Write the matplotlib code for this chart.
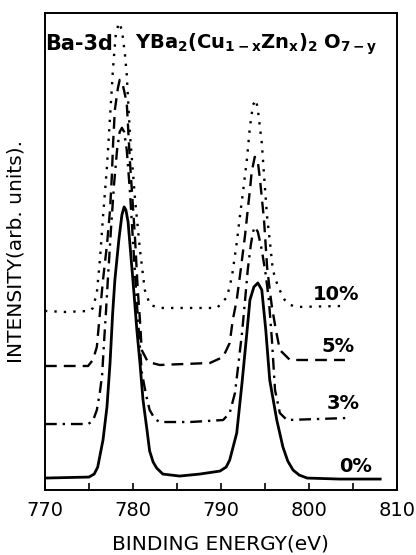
import matplotlib
matplotlib.use('Agg')
import matplotlib.pyplot as plt

plt.rcParams['font.family'] = ['DejaVu Sans']
plt.rcParams['mathtext.default'] = 'regular'

# spectra: binding energy (eV) and intensity (arb.)
E0 = [770.0, 775.0, 775.6, 776.0, 776.6, 777.05, 777.4, 777.7, 777.95, 778.4, 778.75,
      779.0, 779.2, 779.45, 780.0, 780.45, 780.8, 781.15, 781.6, 781.9, 782.3, 782.7,
      783.4, 785.3, 787.6, 789.9, 790.6, 791.0, 791.8, 792.4, 792.95, 793.3, 793.75,
      794.2, 794.65, 795.1, 795.55, 796.35, 797.05, 797.6, 798.2, 798.9, 799.8, 803.5, 808.1]
I0 = [1.2, 1.3, 1.6, 2.3, 5.0, 8.3, 12.7, 17.7, 21.0, 25.0, 27.5,
      28.3, 28.0, 26.8, 21.0, 16.0, 12.7, 9.0, 6.0, 3.9, 2.8, 2.2,
      1.6, 1.4, 1.6, 1.9, 2.3, 3.0, 5.7, 10.7, 15.7, 19.0, 20.3,
      20.7, 20.0, 16.0, 11.0, 7.0, 4.3, 2.9, 2.0, 1.5, 1.2, 1.1, 1.1]

E3 = [770.0, 774.9, 775.45, 775.9, 776.25, 776.5, 776.7, 776.95, 777.15, 777.5,
      777.85, 778.2, 778.5, 778.75, 779.0, 779.3, 779.65, 780.0, 780.35, 780.7,
      781.0, 781.5, 781.9, 782.5, 783.05, 786.5, 790.25, 791.0, 791.6, 791.95,
      792.4, 792.75, 793.05, 793.4, 793.65, 793.85, 794.2, 794.65, 795.1, 795.45,
      795.8, 796.15, 796.7, 797.5, 804.3]
I3 = [6.6, 6.6, 6.9, 8.0, 9.8, 11.5, 14.5, 18.0, 21.0, 26.0,
      30.5, 34.0, 35.8, 36.2, 35.8, 34.0, 30.0, 25.0, 20.0, 15.5,
      11.8, 9.5, 8.0, 7.1, 6.8, 6.8, 7.0, 7.7, 9.7, 12.3,
      15.7, 19.0, 22.0, 24.5, 25.8, 26.3, 25.8, 24.0, 21.5, 19.0,
      15.0, 10.0, 7.7, 7.0, 7.2]

E5 = [770.0, 774.9, 775.45, 775.9, 776.25, 776.6, 777.05, 777.4, 777.6, 777.75,
      777.95, 778.3, 778.5, 778.85, 779.3, 779.45, 779.65, 779.9, 780.25, 780.55,
      780.8, 781.0, 781.7, 783.05, 788.75, 790.25, 791.0, 791.35, 791.8, 792.25,
      792.75, 793.05, 793.3, 793.5, 793.85, 794.2, 794.45, 794.9, 795.25, 795.55,
      795.8, 796.25, 796.7, 797.85, 804.1]
I5 = [12.4, 12.4, 13.0, 14.3, 17.7, 21.0, 24.5, 28.0, 31.3, 34.7,
      38.0, 40.2, 41.0, 40.5, 38.7, 36.3, 33.0, 29.7, 25.0, 20.0,
      17.0, 14.0, 12.8, 12.5, 12.7, 13.3, 14.7, 17.0, 19.0, 22.0,
      25.5, 28.0, 30.0, 31.8, 33.3, 32.8, 31.0, 27.0, 22.3, 20.0,
      18.3, 16.0, 14.0, 13.0, 13.0]

E10 = [770.0, 772.25, 775.1, 775.45, 775.9, 776.25, 776.6, 777.05, 777.4, 777.75,
       778.05, 778.4, 778.75, 779.1, 779.3, 779.65, 780.25, 780.8, 781.35, 781.95,
       783.05, 789.55, 790.1, 790.7, 791.25, 791.8, 792.15, 792.5, 792.95, 793.3,
       793.65, 794.0, 794.2, 794.65, 794.9, 795.25, 795.55, 795.9, 796.5, 797.25,
       797.85, 798.75, 803.85]
I10 = [17.9, 17.8, 17.9, 18.2, 19.7, 23.0, 27.3, 32.3, 37.3, 42.3,
       45.5, 46.7, 46.0, 43.5, 41.5, 35.7, 29.0, 24.0, 20.0, 18.5,
       18.2, 18.2, 18.7, 19.3, 21.3, 24.7, 27.3, 29.7, 33.0, 36.3,
       38.5, 39.0, 38.0, 34.7, 31.5, 27.3, 25.0, 22.0, 20.3, 19.0,
       18.5, 18.3, 18.4]

labels = ['0%', '3%', '5%', '10%']
label_x = [805.3, 803.9, 803.3, 803.1]
label_y = [2.4, 8.7, 14.3, 19.5]
xticks = [770, 780, 790, 800, 810]

fig = plt.figure(figsize=(4.16, 5.55), dpi=100)
ax = fig.add_axes([0.108, 0.117, 0.846, 0.860])

ax.plot(E0, I0, color='black', lw=2.0, ls='-')
ax.plot(E3, I3, color='black', lw=1.7, ls=(0, (5, 2.5, 1, 2.5)))
ax.plot(E5, I5, color='black', lw=1.7, ls=(0, (5, 3)))
ax.plot(E10, I10, color='black', lw=1.7, ls=(0, (1, 3)))

for lab, x, y in zip(labels, label_x, label_y):
    ax.text(x, y, lab, fontsize=14, fontweight='bold', ha='center', va='center')

ax.text(0.0, 0.935, 'Ba-3d', transform=ax.transAxes, fontsize=15,
        fontweight='bold', ha='left', va='center')
ax.text(0.255, 0.935, r'YBa$_2$(Cu$_{1-x}$Zn$_x$)$_2$ O$_{7-y}$',
        transform=ax.transAxes, fontsize=14, fontweight='bold',
        ha='left', va='center')

ax.set_xlim(770, 810)
ax.set_ylim(0, 47.7)
ax.set_xticks(xticks)
ax.set_xticklabels([str(t) for t in xticks], fontsize=14)
ax.set_xticks([775, 785, 795, 805], minor=True)
ax.tick_params(axis='x', which='both', direction='in', length=5, width=1.2, pad=8)
ax.set_yticks([])
for s in ax.spines.values():
    s.set_linewidth(1.4)

ax.set_xlabel('BINDING ENERGY(eV)', fontsize=14.5, labelpad=10)
ax.set_ylabel('INTENSITY(arb. units).', fontsize=14.5, labelpad=14)

fig.savefig('out.png', dpi=100)
